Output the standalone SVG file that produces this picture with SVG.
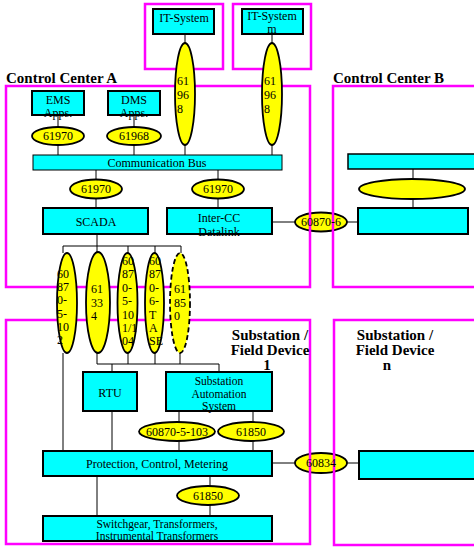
<svg xmlns="http://www.w3.org/2000/svg" width="474" height="548" viewBox="0 0 474 548">
<style>
.frame{fill:none;stroke:#FF00FF;stroke-width:2.5}
.box{fill:#00FFFF;stroke:#000;stroke-width:2}
.bus{fill:#00FFFF;stroke:#000;stroke-width:1}
.ell{fill:#FFFF00;stroke:#000;stroke-width:1.8}
.dash{stroke-dasharray:5 3}
.t{font-family:"Liberation Serif","Times New Roman",serif;font-size:12px;fill:#000}
.s{font-size:11.5px}
.c{text-anchor:middle}
.h{font-family:"Liberation Serif","Times New Roman",serif;font-size:15px;font-weight:bold;fill:#000}
.ln{stroke:#000;stroke-width:1;fill:none}
</style>
<rect width="474" height="548" fill="#fff"/>

<!-- link ellipses drawn beneath frames -->
<g id="iec60870-6">
<ellipse class="ell" cx="321" cy="222" rx="26" ry="9.5"/>
</g>
<g id="iec60834">
<ellipse class="ell" cx="321" cy="463" rx="26" ry="10"/>
</g>

<g id="frames">
<rect id="it1-frame" class="frame" x="145" y="4" width="78" height="65"/>
<rect id="itm-frame" class="frame" x="233" y="4" width="78" height="65"/>
<rect id="cca-frame" class="frame" x="6" y="86" width="304" height="201"/>
<rect id="ccb-frame" class="frame" x="333" y="86" width="150" height="201"/>
<rect id="sub1-frame" class="frame" x="6" y="320" width="304" height="224"/>
<rect id="subn-frame" class="frame" x="334" y="320" width="150" height="225"/>
</g>

<g id="link-labels">
<text class="t c" x="321" y="226">60870-6</text>
<text class="t c" x="321" y="467">60834</text>
</g>

<g id="headings">
<text class="h" x="6" y="83">Control Center A</text>
<text class="h" x="333" y="83">Control Center B</text>
<text class="h c" x="270" y="340">Substation /</text>
<text class="h c" x="270" y="355">Field Device</text>
<text class="h c" x="267" y="370">1</text>
<text class="h c" x="395" y="340">Substation /</text>
<text class="h c" x="395" y="355">Field Device</text>
<text class="h c" x="387" y="370">n</text>
</g>

<g id="connectors">
<path class="ln" d="M185 26V43M185 145V155M272 26V43M272 145V155"/>
<path class="ln" d="M58 115V127M58 145V155M134 115V127M134 145V155"/>
<path class="ln" d="M96 170V180M96 199V208M218 170V180M218 199V208"/>
<path class="ln" d="M272 222H295M347 222H358M413 169V179M413 199V208"/>
<path class="ln" d="M97 234V246M63 246H181M63 246V253M97 246V252M128 246V253M155 246V253M181 246V253"/>
<path class="ln" d="M63 353V451M97 353V364M97 364H219M112 364V372M219 364V372M128 353V364M155 353V364M180 353V364"/>
<path class="ln" d="M112 411V451M179 411V422M179 441V451M253 411V422M253 441V451"/>
<path class="ln" d="M272 463H295M347 463H359M97 476V516M210 476V486M210 505V516"/>
</g>

<g id="it-system-1">
<rect class="box" x="153" y="9" width="61" height="25"/>
<text class="t c" x="184" y="22">IT-System</text>
</g>
<g id="it-system-m">
<rect class="box" x="242" y="9" width="61" height="25"/>
<text class="t c" x="272" y="20">IT-System</text>
<text class="t c" x="272" y="33">m</text>
</g>
<g id="iec61968-1">
<ellipse class="ell" cx="185" cy="94" rx="10" ry="51"/>
<text class="t" x="177" y="85">61<tspan x="177" dy="14">96</tspan><tspan x="177" dy="14">8</tspan></text>
</g>
<g id="iec61968-m">
<ellipse class="ell" cx="272" cy="94" rx="10" ry="51"/>
<text class="t" x="264" y="85">61<tspan x="264" dy="14">96</tspan><tspan x="264" dy="14">8</tspan></text>
</g>

<g id="ems">
<rect class="box" x="32" y="91" width="52" height="24"/>
<text class="t c" x="58" y="104">EMS</text>
<text class="t c" x="58" y="117">Apps.</text>
</g>
<g id="dms">
<rect class="box" x="108" y="91" width="52" height="24"/>
<text class="t c" x="134" y="104">DMS</text>
<text class="t c" x="134" y="117">Apps.</text>
</g>
<g id="iec61970-ems">
<ellipse class="ell" cx="58" cy="136" rx="26" ry="9"/>
<text class="t c" x="58" y="140">61970</text>
</g>
<g id="iec61968-dms">
<ellipse class="ell" cx="134" cy="136" rx="27" ry="9"/>
<text class="t c" x="134" y="140">61968</text>
</g>
<g id="comm-bus">
<rect class="bus" x="33" y="155" width="249" height="15"/>
<text class="t c" x="157" y="167">Communication Bus</text>
</g>
<g id="iec61970-scada">
<ellipse class="ell" cx="96" cy="189" rx="26" ry="9.5"/>
<text class="t c" x="96" y="193">61970</text>
</g>
<g id="iec61970-icc">
<ellipse class="ell" cx="218" cy="189" rx="26" ry="9.5"/>
<text class="t c" x="218" y="193">61970</text>
</g>
<g id="scada">
<rect class="box" x="43" y="208" width="105" height="26"/>
<text class="t c" x="96" y="226">SCADA</text>
</g>
<g id="inter-cc">
<rect class="box" x="167" y="208" width="105" height="26"/>
<text class="t c" x="219" y="222">Inter-CC</text>
<text class="t c" x="219" y="236">Datalink</text>
</g>

<g id="ccb-bus">
<rect class="bus" x="348" y="154" width="140" height="15" style="stroke-width:1.5"/>
</g>
<g id="ccb-ellipse">
<ellipse class="ell" cx="412" cy="189" rx="53" ry="10"/>
</g>
<g id="ccb-datalink">
<rect class="box" x="358" y="208" width="110" height="26"/>
</g>

<g id="iec60870-5-102">
<ellipse class="ell" cx="67" cy="303" rx="10" ry="50"/>
<text class="t" x="57" y="278">60<tspan x="57" dy="13.2">87</tspan><tspan x="57" dy="13.2">0-</tspan><tspan x="57" dy="13.2">5-</tspan><tspan x="57" dy="13.2">10</tspan><tspan x="57" dy="13.2">2</tspan></text>
</g>
<g id="iec61334">
<ellipse class="ell" cx="98" cy="302.5" rx="12" ry="50.5"/>
<text class="t" x="91" y="293">61<tspan x="91" dy="13.5">33</tspan><tspan x="91" dy="13.5">4</tspan></text>
</g>
<g id="iec60870-5-101-104">
<ellipse class="ell" cx="127.5" cy="303" rx="10" ry="50"/>
<text class="t" x="122" y="265">60<tspan x="122" dy="13.4">87</tspan><tspan x="122" dy="13.4">0-</tspan><tspan x="122" dy="13.4">5-</tspan><tspan x="122" dy="13.4">10</tspan><tspan x="122" dy="13.4">1/1</tspan><tspan x="122" dy="13.4">04</tspan></text>
</g>
<g id="iec60870-6-tase">
<ellipse class="ell" cx="154.5" cy="303" rx="9.5" ry="50"/>
<text class="t" x="149" y="265">60<tspan x="149" dy="13.4">87</tspan><tspan x="149" dy="13.4">0-</tspan><tspan x="149" dy="13.4">6-</tspan><tspan x="149" dy="13.4">T</tspan><tspan x="149" dy="13.4">A</tspan><tspan x="149" dy="13.4">SE</tspan></text>
</g>
<g id="iec61850-cc">
<ellipse class="ell dash" cx="180" cy="303" rx="10" ry="50"/>
<text class="t" x="174" y="293">61<tspan x="174" dy="13.5">85</tspan><tspan x="174" dy="13.5">0</tspan></text>
</g>

<g id="rtu">
<rect class="box" x="83" y="372" width="54" height="39"/>
<text class="t c" x="110" y="397">RTU</text>
</g>
<g id="sas">
<rect class="box" x="166" y="372" width="106" height="39"/>
<text class="t s c" x="219" y="385">Substation</text>
<text class="t s c" x="219" y="397.5">Automation</text>
<text class="t s c" x="219" y="410">System</text>
</g>
<g id="iec60870-5-103">
<ellipse class="ell" cx="177" cy="431.5" rx="38" ry="9.5"/>
<text class="t c" x="177" y="436">60870-5-103</text>
</g>
<g id="iec61850-sas">
<ellipse class="ell" cx="251" cy="431.5" rx="33" ry="9.5"/>
<text class="t c" x="251" y="436">61850</text>
</g>
<g id="pcm">
<rect class="box" x="43" y="451" width="229" height="25"/>
<text class="t c" x="157" y="468">Protection, Control, Metering</text>
</g>
<g id="iec61850-pcm">
<ellipse class="ell" cx="208" cy="495.5" rx="31" ry="9.5"/>
<text class="t c" x="208" y="500">61850</text>
</g>
<g id="switchgear">
<rect class="box" x="43" y="516" width="229" height="25"/>
<text class="t s c" x="157" y="527.5">Switchgear, Transformers,</text>
<text class="t s c" x="157" y="539.5">Instrumental Transformers</text>
</g>
<g id="subn-pcm">
<rect class="box" x="359" y="451" width="125" height="28"/>
</g>
</svg>
